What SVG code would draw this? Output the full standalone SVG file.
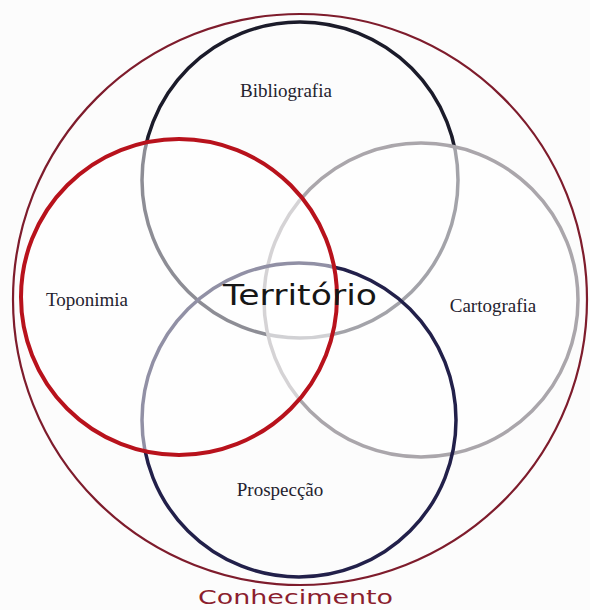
<svg xmlns="http://www.w3.org/2000/svg" width="590" height="610" viewBox="0 0 590 610">
  <style>
    .lbl { font-family: "Liberation Serif", "Times New Roman", serif; font-size: 19px; fill: #24222e; text-anchor: middle; }
    .hand { font-family: "DejaVu Sans", "Liberation Sans", sans-serif; }
    .ring { fill: none; }
  </style>
  <rect x="0" y="0" width="590" height="610" fill="#fcfcfc"/>
  <g id="conhecimento">
    <ellipse class="ring" cx="300" cy="299.5" rx="287" ry="285.5" stroke="#7e1c2c" stroke-width="2.2"/>
  </g>
  <g id="bibliografia">
    <circle class="ring" cx="300" cy="180" r="158" stroke="#1b1b2a" stroke-width="3.5"/>
  </g>
  <g id="cartografia">
    <circle cx="421" cy="300" r="157" fill="#ffffff" fill-opacity="0.6" stroke="#aaa6ab" stroke-width="3.5"/>
  </g>
  <g id="prospeccao">
    <circle class="ring" cx="299" cy="420" r="157" stroke="#22204a" stroke-width="3.5"/>
  </g>
  <g id="toponimia">
    <circle cx="179" cy="297" r="158" fill="#ffffff" fill-opacity="0.5" stroke="#b8121c" stroke-width="4"/>
  </g>
  <g id="connectors"/>
  <g id="labels">
    <text class="lbl" x="286" y="97">Bibliografia</text>
    <text class="lbl" x="87" y="306">Toponimia</text>
    <text class="lbl" x="493" y="312">Cartografia</text>
    <text class="lbl" x="280" y="496">Prospecção</text>
    <text class="hand" x="223" y="305" font-size="28" fill="#161616" textLength="154" lengthAdjust="spacingAndGlyphs">Território</text>
    <text class="hand" x="198" y="604" font-size="20" fill="#8b1e2e" textLength="195" lengthAdjust="spacingAndGlyphs">Conhecimento</text>
  </g>
</svg>
